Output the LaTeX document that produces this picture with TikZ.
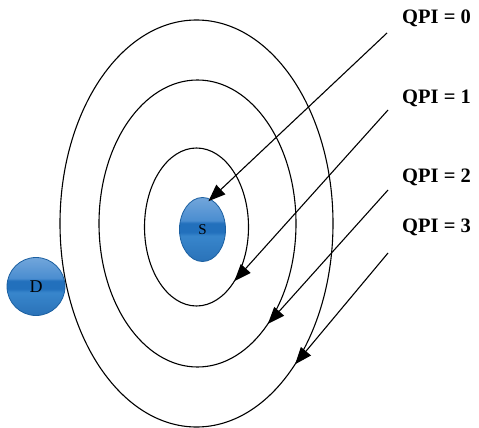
\documentclass[tikz,border=0pt]{standalone}
\usepackage{fontspec}
\setmainfont{Liberation Serif}
\usetikzlibrary{shapes.geometric,arrows.meta}
\definecolor{bandlow}{HTML}{2A72B8}
\definecolor{bandmid}{HTML}{3886CC}
\definecolor{banddark}{HTML}{2270BC}
\definecolor{bandup}{HTML}{4A8DD0}
\definecolor{bandtop}{HTML}{72A6DB}
\pgfdeclareverticalshading{ballband}{100bp}{color(0bp)=(bandlow); color(25bp)=(bandlow);
  color(45bp)=(bandmid); color(48bp)=(banddark); color(55bp)=(banddark);
  color(57bp)=(bandup); color(75bp)=(bandtop); color(100bp)=(bandtop)}
\begin{document}
\begin{tikzpicture}[x=1pt, y=-1pt, >={Triangle[length=17pt,width=13pt]}, line join=round]
  \definecolor{sblue}{HTML}{1B5FA0}
  \tikzset{
    ring/.style={draw, ellipse, line width=1.1pt, inner sep=0pt, outer sep=0pt},
    ball/.style={draw=sblue, line width=0.8pt, ellipse, inner sep=0pt, shading=ballband},
    qpi/.style={font=\bfseries\fontsize{20.5}{24}\selectfont, anchor=west, inner sep=0pt},
    flow/.style={->, line width=1.1pt}
  }
  \useasboundingbox (0,0) rectangle (479,428);
  % orbits
  \node[ring, minimum width=104, minimum height=158] (ringA) at (196.5,227) {};
  \node[ring, minimum width=197, minimum height=287] (ringB) at (197.5,223.5) {};
  \node[ring, minimum width=273, minimum height=407] (ringC) at (196.5,223.5) {};
  % source and destination
  \node[ball, minimum width=46, minimum height=64, font=\fontsize{15}{17}\selectfont] (S) at (202.5,229.5) {S};
  \node[ball, minimum width=58, minimum height=58, font=\fontsize{18}{20}\selectfont] (D) at (36,286.5) {D};
  % labels
  \node[qpi] (qpi0) at (402,18) {QPI = 0};
  \node[qpi] (qpi1) at (402,98) {QPI = 1};
  \node[qpi] (qpi2) at (402,177) {QPI = 2};
  \node[qpi] (qpi3) at (402,227) {QPI = 3};
  \coordinate (from0) at (387,33);
  \coordinate (from1) at (388,110);
  \coordinate (from2) at (388,190);
  \coordinate (from3) at (388,253);
  % arrows
  \draw[flow, shorten >=-3pt] (from0) -- (S.75);
  \draw[flow] (from1) -- (ringA.-55);
  \draw[flow] (from2) -- (ringB.-55);
  \draw[flow] (from3) -- (ringC.-55);
\end{tikzpicture}
\end{document}
